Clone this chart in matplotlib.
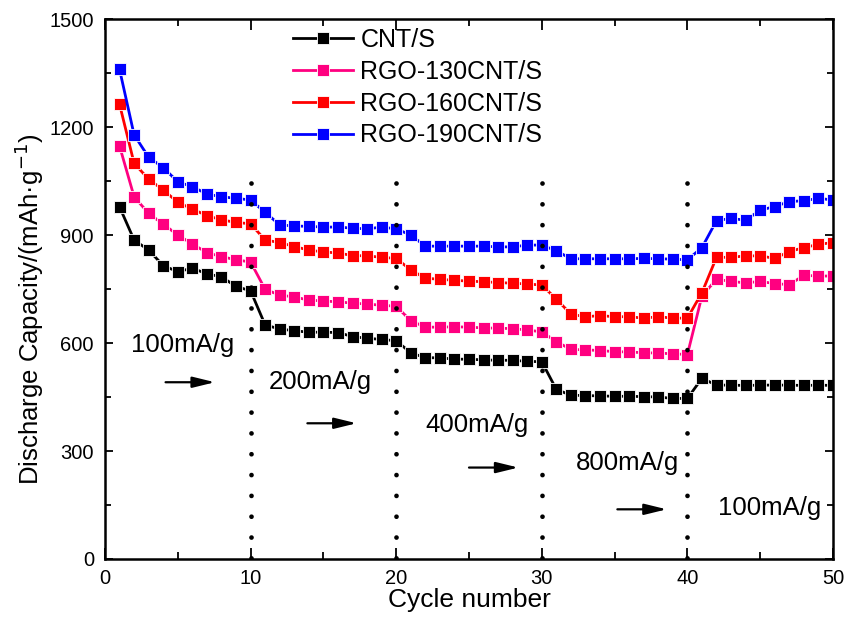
import numpy as np
import matplotlib
matplotlib.use("Agg")
import matplotlib.pyplot as plt
from matplotlib.ticker import MultipleLocator

plt.rcParams['font.family'] = ['Liberation Sans', 'DejaVu Sans']

# ---- data ----
cycles = list(range(1, 51))
cnt_s = [978, 886, 858, 815, 798, 808, 792, 784, 757, 745,
         650, 639, 634, 630, 630, 629, 618, 613, 610, 606,
         573, 559, 559, 555, 555, 553, 552, 552, 549, 548,
         471, 455, 454, 453, 452, 452, 451, 450, 446, 446,
         502, 483, 483, 482, 483, 483, 483, 482, 483, 482]
rgo130 = [1147, 1006, 960, 930, 900, 875, 851, 840, 831, 825,
          749, 733, 728, 719, 717, 714, 711, 708, 705, 702,
          662, 644, 644, 645, 644, 642, 641, 640, 636, 631,
          604, 582, 581, 579, 576, 575, 573, 572, 570, 568,
          731, 777, 771, 767, 771, 765, 762, 788, 786, 786]
rgo160 = [1263, 1099, 1055, 1025, 991, 972, 954, 942, 935, 931,
          886, 879, 868, 858, 853, 850, 843, 842, 838, 835,
          803, 780, 777, 774, 772, 770, 768, 766, 764, 761,
          722, 680, 673, 676, 673, 673, 669, 673, 669, 669,
          740, 838, 838, 842, 842, 835, 854, 865, 874, 879]
rgo190 = [1360, 1178, 1116, 1087, 1048, 1034, 1014, 1006, 1002, 997,
          963, 928, 925, 924, 922, 922, 919, 917, 922, 917,
          900, 869, 869, 869, 869, 869, 867, 867, 872, 872,
          856, 834, 834, 834, 834, 834, 835, 834, 833, 831,
          865, 940, 946, 941, 969, 979, 993, 995, 1002, 997]

series_labels = ['CNT/S', 'RGO-130CNT/S', 'RGO-160CNT/S', 'RGO-190CNT/S']
series_values = [cnt_s, rgo130, rgo160, rgo190]
series_colors = ['#000000', '#FF0080', '#FF0000', '#0000FF']

rate_boundaries = [10, 20, 30, 40]
rate_labels = ['100mA/g', '200mA/g', '400mA/g', '800mA/g', '100mA/g']
rate_label_pos = [(5.36, 594), (14.77, 492), (25.53, 372), (35.9, 266), (45.62, 141)]
arrow_pos = [(4.16, 7.55, 491), (13.9, 17.28, 377), (25.0, 28.39, 254), (35.19, 38.58, 138)]

# ---- figure ----
fig = plt.figure(figsize=(8.44, 6.19), dpi=100)
ax = fig.add_axes([105/844, 1-559/619, 728/844, 540/619])

for vals, lab, col in zip(series_values, series_labels, series_colors):
    ax.plot(cycles, vals, '-s', color=col, lw=2.0, ms=9, mec='white', mew=0.6,
            label=lab)

for xb in rate_boundaries:
    ax.plot([xb, xb], [1045, 0], color='black', lw=3.4,
            linestyle=(0, (0.01, 4.4)), dash_capstyle='round', zorder=5)

for txt, (tx, ty) in zip(rate_labels, rate_label_pos):
    ax.text(tx, ty, txt, fontsize=18.5, ha='center', va='center')

for (x0, x1, ya) in arrow_pos:
    ax.annotate('', xy=(x1, ya), xytext=(x0, ya),
                arrowprops=dict(arrowstyle='-|>,head_length=0.9,head_width=0.22',
                                lw=1.6, color='black', shrinkA=0, shrinkB=0,
                                mutation_scale=15))

ax.set_xlim(0, 50)
ax.set_ylim(0, 1500)
ax.xaxis.set_major_locator(MultipleLocator(10))
ax.xaxis.set_minor_locator(MultipleLocator(5))
ax.yaxis.set_major_locator(MultipleLocator(300))
ax.yaxis.set_minor_locator(MultipleLocator(150))
ax.tick_params(which='both', direction='in', top=True, right=True,
               labelsize=14.5, width=1.3)
ax.tick_params(axis='x', which='major', length=8, pad=7)
ax.tick_params(axis='x', which='minor', length=5)
ax.tick_params(axis='y', which='major', length=6, pad=8)
ax.tick_params(axis='y', which='minor', length=4.5)
for sp in ax.spines.values():
    sp.set_linewidth(1.8)

ax.set_xlabel('Cycle number', fontsize=19, labelpad=0)
fig.text(29/844, 1-309/619, 'Discharge Capacity/(mAh·g$^{-1}$)', rotation=90,
         ha='center', va='center', fontsize=18.5)

leg = ax.legend(loc='upper left', bbox_to_anchor=(0.258, 0.983), frameon=False,
                fontsize=18, handlelength=2.4, handletextpad=0.3,
                labelspacing=0.31, borderpad=0, borderaxespad=0)

fig.savefig('out.png', dpi=100)
